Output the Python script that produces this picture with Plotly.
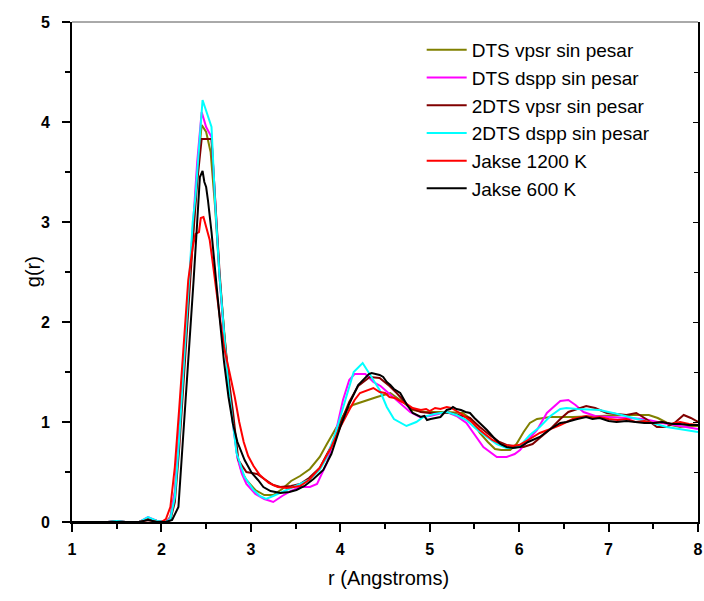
import plotly.graph_objects as go

# ---------------- data ----------------
names = ["DTS vpsr sin pesar", "DTS dspp sin pesar", "2DTS vpsr sin pesar",
         "2DTS dspp sin pesar", "Jakse 1200 K", "Jakse 600 K"]
colors = ["#808000", "#FF00FF", "#800000", "#00FFFF", "#FF0000", "#000000"]

r_olive = [1.0, 1.4, 1.5, 1.6, 1.75, 1.85, 1.95, 2.05, 2.10, 2.15, 2.20, 2.25, 2.30, 2.35, 2.40, 2.45,
           2.50, 2.55, 2.60, 2.65, 2.70, 2.75, 2.80, 2.85, 2.90, 2.95, 3.05, 3.15, 3.25, 3.35, 3.45,
           3.55, 3.66, 3.77, 3.85, 3.92, 4.0, 4.07, 4.14, 4.27, 4.41, 4.56, 4.70, 4.81, 4.95, 5.19,
           5.37, 5.46, 5.56, 5.65, 5.73, 5.80, 5.90, 5.97, 6.05, 6.12, 6.20, 6.35, 6.6, 6.9, 7.2,
           7.45, 7.55, 7.7, 7.8, 7.9, 8.0]
g_olive = [0, 0, 0.01, 0, 0, 0.04, 0.01, 0, 0.05, 0.3, 0.9, 1.55, 2.2, 2.85, 3.5, 3.97,
           3.9, 3.7, 3.15, 2.45, 1.9, 1.4, 1.0, 0.65, 0.5, 0.42, 0.32, 0.27, 0.27, 0.33, 0.41,
           0.46, 0.53, 0.65, 0.78, 0.89, 1.02, 1.12, 1.17, 1.21, 1.25, 1.29, 1.20, 1.12, 1.10, 1.10,
           1.09, 1.03, 0.89, 0.80, 0.73, 0.72, 0.72, 0.78, 0.90, 0.99, 1.03, 1.05, 1.05, 1.06, 1.07,
           1.07, 1.04, 0.97, 0.95, 0.96, 0.96]

r_magenta = [1.0, 1.4, 1.5, 1.6, 1.75, 1.85, 1.95, 2.05, 2.10, 2.15, 2.20, 2.25, 2.30, 2.35, 2.40, 2.45,
             2.50, 2.56, 2.60, 2.65, 2.70, 2.75, 2.80, 2.85, 2.90, 2.95, 3.05, 3.15, 3.25, 3.35, 3.45,
             3.55, 3.66, 3.74, 3.85, 3.95, 4.03, 4.10, 4.16, 4.28, 4.37, 4.45, 4.55, 4.67, 4.78, 4.89,
             5.0, 5.19, 5.30, 5.41, 5.50, 5.60, 5.75, 5.86, 5.95, 6.01, 6.10, 6.20, 6.31, 6.46, 6.55,
             6.63, 6.72, 6.85, 7.0, 7.2, 7.4, 7.6, 7.8, 8.0]
g_magenta = [0, 0, 0.01, 0, 0, 0.05, 0.01, 0, 0.04, 0.3, 0.9, 1.6, 2.3, 2.95, 3.6, 4.1,
             3.95, 3.85, 3.2, 2.45, 1.85, 1.38, 0.98, 0.64, 0.48, 0.38, 0.28, 0.23, 0.20, 0.26, 0.31,
             0.35, 0.35, 0.38, 0.59, 0.9, 1.22, 1.42, 1.48, 1.48, 1.40, 1.36, 1.28, 1.19, 1.10, 1.05,
             1.06, 1.10, 1.06, 0.99, 0.87, 0.75, 0.65, 0.65, 0.68, 0.72, 0.82, 0.92, 1.09, 1.21, 1.22,
             1.17, 1.10, 1.06, 1.05, 1.04, 1.03, 0.99, 0.96, 0.93]

r_darkred = [1.0, 1.4, 1.5, 1.6, 1.75, 1.85, 1.95, 2.05, 2.10, 2.15, 2.20, 2.25, 2.30, 2.35, 2.40, 2.45,
             2.56, 2.60, 2.65, 2.70, 2.75, 2.80, 2.86, 2.95, 3.01, 3.07, 3.15, 3.25, 3.33, 3.45, 3.55,
             3.65, 3.77, 3.9, 4.0, 4.1, 4.2, 4.33, 4.44, 4.55, 4.63, 4.78, 4.9, 5.0, 5.23, 5.45,
             5.56, 5.67, 5.78, 5.86, 6.05, 6.15, 6.23, 6.35, 6.46, 6.55, 6.75, 6.85, 6.98, 7.2,
             7.31, 7.42, 7.54, 7.65, 7.75, 7.84, 7.92, 8.0]
g_darkred = [0, 0, 0.01, 0, 0, 0.03, 0.01, 0, 0.02, 0.2, 0.75, 1.45, 2.15, 2.8, 3.4, 3.83,
             3.83, 3.25, 2.5, 1.9, 1.45, 1.1, 0.62, 0.50, 0.49, 0.48, 0.43, 0.37, 0.35, 0.36, 0.38,
             0.44, 0.54, 0.76, 0.98, 1.2, 1.36, 1.45, 1.44, 1.36, 1.29, 1.14, 1.10, 1.09, 1.09, 1.04,
             0.95, 0.87, 0.80, 0.77, 0.75, 0.78, 0.84, 0.93, 1.03, 1.10, 1.16, 1.14, 1.09, 1.07,
             1.09, 1.03, 0.95, 0.95, 1.0, 1.07, 1.04, 1.0]

r_cyan = [1.0, 1.4, 1.5, 1.6, 1.75, 1.85, 1.95, 2.05, 2.10, 2.15, 2.20, 2.25, 2.30, 2.35, 2.38, 2.46,
          2.56, 2.60, 2.65, 2.70, 2.75, 2.80, 2.84, 2.93, 3.03, 3.10, 3.17, 3.25, 3.35, 3.45, 3.55,
          3.65, 3.77, 3.85, 3.95, 4.05, 4.15, 4.25, 4.35, 4.44, 4.52, 4.60, 4.74, 4.85, 4.93, 5.05,
          5.19, 5.30, 5.41, 5.52, 5.64, 5.75, 5.86, 5.95, 6.01, 6.12, 6.23, 6.35, 6.46, 6.53, 6.65,
          6.9, 7.1, 7.28, 7.45, 7.65, 7.85, 8.0]
g_cyan = [0, 0, 0.01, 0, 0, 0.05, 0.01, 0, 0.03, 0.25, 0.85, 1.6, 2.35, 3.0, 3.25, 4.22,
          3.95, 3.2, 2.45, 1.85, 1.35, 0.98, 0.69, 0.45, 0.32, 0.26, 0.23, 0.26, 0.30, 0.34, 0.38,
          0.42, 0.52, 0.65, 0.9, 1.2, 1.50, 1.59, 1.45, 1.32, 1.15, 1.03, 0.96, 1.0, 1.05, 1.08,
          1.10, 1.07, 1.02, 0.93, 0.85, 0.78, 0.74, 0.74, 0.76, 0.87, 0.95, 1.06, 1.13, 1.14, 1.13,
          1.12, 1.08, 1.04, 1.0, 0.95, 0.92, 0.90]

r_red = [1.0, 1.5, 1.75, 1.85, 1.95, 2.0, 2.05, 2.10, 2.15, 2.20, 2.25, 2.30, 2.35, 2.38, 2.42, 2.44,
         2.47, 2.50, 2.54, 2.58, 2.62, 2.66, 2.70, 2.74, 2.77, 2.82, 2.87, 2.92, 2.97, 3.03, 3.10,
         3.20, 3.30, 3.40, 3.48, 3.55, 3.65, 3.77, 3.90, 4.0, 4.1, 4.16, 4.22, 4.30, 4.37, 4.44,
         4.50, 4.55, 4.61, 4.67, 4.74, 4.81, 4.90, 4.96, 5.0, 5.06, 5.12, 5.19, 5.24, 5.28, 5.37,
         5.47, 5.56, 5.70, 5.82, 5.92, 6.0, 6.12, 6.23, 6.35, 6.46, 6.6, 6.68, 6.75, 6.82, 6.9,
         7.0, 7.1, 7.2, 7.3, 7.4, 7.5, 7.6, 7.7, 7.8, 7.9, 8.0]
g_red = [0, 0, 0, 0.02, 0, 0, 0.03, 0.15, 0.55, 1.15, 1.8, 2.42, 2.75, 2.88, 2.90, 3.04,
         3.05, 2.95, 2.82, 2.55, 2.25, 2.0, 1.75, 1.58, 1.48, 1.25, 1.0, 0.8, 0.66, 0.56, 0.47,
         0.39, 0.35, 0.34, 0.35, 0.36, 0.42, 0.54, 0.75, 0.95, 1.12, 1.22, 1.29, 1.32, 1.34, 1.30,
         1.29, 1.25, 1.24, 1.21, 1.18, 1.14, 1.12, 1.13, 1.11, 1.14, 1.13, 1.15, 1.14, 1.12, 1.07,
         1.0, 0.92, 0.82, 0.77, 0.76, 0.77, 0.83, 0.89, 0.93, 0.97, 1.03, 1.05, 1.06, 1.04, 1.05,
         1.03, 1.02, 1.03, 1.00, 1.01, 0.99, 1.0, 0.98, 1.0, 0.98, 0.97]

r_black = [1.0, 1.5, 1.75, 1.85, 1.95, 2.05, 2.12, 2.19, 2.24, 2.30, 2.36, 2.40, 2.43, 2.46, 2.48,
           2.50, 2.52, 2.56, 2.60, 2.65, 2.70, 2.75, 2.80, 2.85, 2.93, 3.01, 3.08, 3.14, 3.22, 3.33,
           3.43, 3.51, 3.6, 3.7, 3.81, 3.9, 4.0, 4.1, 4.2, 4.28, 4.32, 4.35, 4.40, 4.44, 4.48, 4.52,
           4.56, 4.60, 4.67, 4.74, 4.81, 4.86, 4.90, 4.94, 4.97, 5.01, 5.05, 5.12, 5.16, 5.19,
           5.23, 5.26, 5.30, 5.35, 5.40, 5.45, 5.50, 5.56, 5.64, 5.71, 5.79, 5.86, 5.93, 6.01,
           6.1, 6.23, 6.35, 6.46, 6.53, 6.65, 6.75, 6.82, 6.9, 7.0, 7.09, 7.2, 7.3, 7.4, 7.5,
           7.6, 7.65, 7.72, 7.8, 7.9, 8.0]
g_black = [0, 0, 0, 0.02, 0, 0, 0.02, 0.15, 0.8, 1.6, 2.42, 3.0, 3.45, 3.51, 3.40,
           3.35, 3.22, 2.9, 2.55, 2.05, 1.6, 1.25, 0.98, 0.8, 0.62, 0.49, 0.42, 0.35, 0.31, 0.29,
           0.30, 0.32, 0.36, 0.43, 0.52, 0.68, 0.95, 1.18, 1.37, 1.45, 1.48, 1.49, 1.48, 1.47, 1.45, 1.40,
           1.37, 1.33, 1.29, 1.18, 1.09, 1.07, 1.05, 1.06, 1.02, 1.03, 1.04, 1.05, 1.09, 1.12,
           1.13, 1.15, 1.13, 1.12, 1.10, 1.09, 1.04, 0.99, 0.92, 0.85, 0.78, 0.75, 0.74, 0.75,
           0.80, 0.85, 0.93, 0.99, 1.0, 1.03, 1.05, 1.03, 1.04, 1.01, 1.0, 1.01, 1.0, 0.99, 0.99,
           1.0, 0.99, 0.98, 0.98, 0.97, 0.97]

series_r = [r_olive, r_magenta, r_darkred, r_cyan, r_red, r_black]
series_g = [g_olive, g_magenta, g_darkred, g_cyan, g_red, g_black]

x_ticks = [1, 2, 3, 4, 5, 6, 7, 8]
y_ticks = [0, 1, 2, 3, 4, 5]
x_title = "r (Angstroms)"
y_title = "g(r)"

# ---------------- figure ----------------
FONT = "Arial, 'Liberation Sans', sans-serif"
fig = go.Figure()
for nm, col, rr, gg in zip(names, colors, series_r, series_g):
    fig.add_trace(go.Scatter(x=rr, y=gg, mode="lines", name=nm,
                             line=dict(color=col, width=2)))

# invisible helper trace so the right-hand mirror axis (inward ticks) is drawn
fig.add_trace(go.Scatter(x=[1], y=[0], yaxis="y2", mode="markers",
                         marker=dict(opacity=0), showlegend=False, hoverinfo="skip"))

fig.update_layout(
    width=704, height=601,
    margin=dict(l=72, r=6, t=22, b=79, autoexpand=False),
    plot_bgcolor="white", paper_bgcolor="white",
    font=dict(family=FONT, color="black"),
    showlegend=True,
    legend=dict(x=0.5586, y=0.982, xanchor="left", yanchor="top",
                bgcolor="rgba(0,0,0,0)", borderwidth=0,
                font=dict(family=FONT, size=19, color="black"),
                itemwidth=40, tracegroupgap=0),
    xaxis=dict(range=[1, 8], tickvals=x_ticks, ticktext=[f"<b>{v}</b>" for v in x_ticks],
               automargin=False, ticklabeloverflow="allow",
               showgrid=False, zeroline=False, showline=True, linecolor="black", linewidth=2,
               ticks="outside", ticklen=8, tickwidth=2, tickcolor="black", ticklabelstandoff=4,
               minor=dict(ticks="outside", dtick=0.5, ticklen=5, tickwidth=2, tickcolor="black"),
               tickfont=dict(family=FONT, size=16, color="black")),
    yaxis=dict(range=[0, 5], tickvals=y_ticks, ticktext=[f"<b>{v}</b>" for v in y_ticks],
               automargin=False, ticklabeloverflow="allow",
               showgrid=False, zeroline=False, showline=True, linecolor="black", linewidth=2,
               ticks="outside", ticklen=8, tickwidth=2, tickcolor="black", ticklabelstandoff=9,
               minor=dict(ticks="outside", dtick=0.5, ticklen=5, tickwidth=2, tickcolor="black"),
               tickfont=dict(family=FONT, size=16, color="black")),
    yaxis2=dict(range=[0, 5], overlaying="y", side="right", showgrid=False, zeroline=False,
                automargin=False,
                showline=True, linecolor="black", linewidth=2, showticklabels=False,
                ticks="inside", ticklen=5, tickwidth=1, tickcolor="black", tickvals=y_ticks,
                minor=dict(ticks="inside", dtick=0.5, ticklen=4, tickwidth=1, tickcolor="black")),
    shapes=[dict(type="line", xref="paper", yref="paper", x0=0, x1=1, y0=1, y1=1,
                 line=dict(color="#555555", width=1))],
    annotations=[
        dict(text=x_title, xref="paper", yref="paper", x=0.505, y=-0.112,
             xanchor="center", yanchor="middle", showarrow=False,
             font=dict(family=FONT, size=20, color="black")),
        dict(text=y_title, xref="paper", yref="paper", x=-0.062, y=0.5,
             xanchor="center", yanchor="middle", showarrow=False, textangle=-90,
             font=dict(family=FONT, size=20, color="black")),
    ],
)

# remove the default 8px page margin so the figure sits at the window's top-left corner
fig.write_html("out.html", config={"displayModeBar": False},
               post_script="document.body.style.margin='0';document.body.style.overflow='hidden';")
